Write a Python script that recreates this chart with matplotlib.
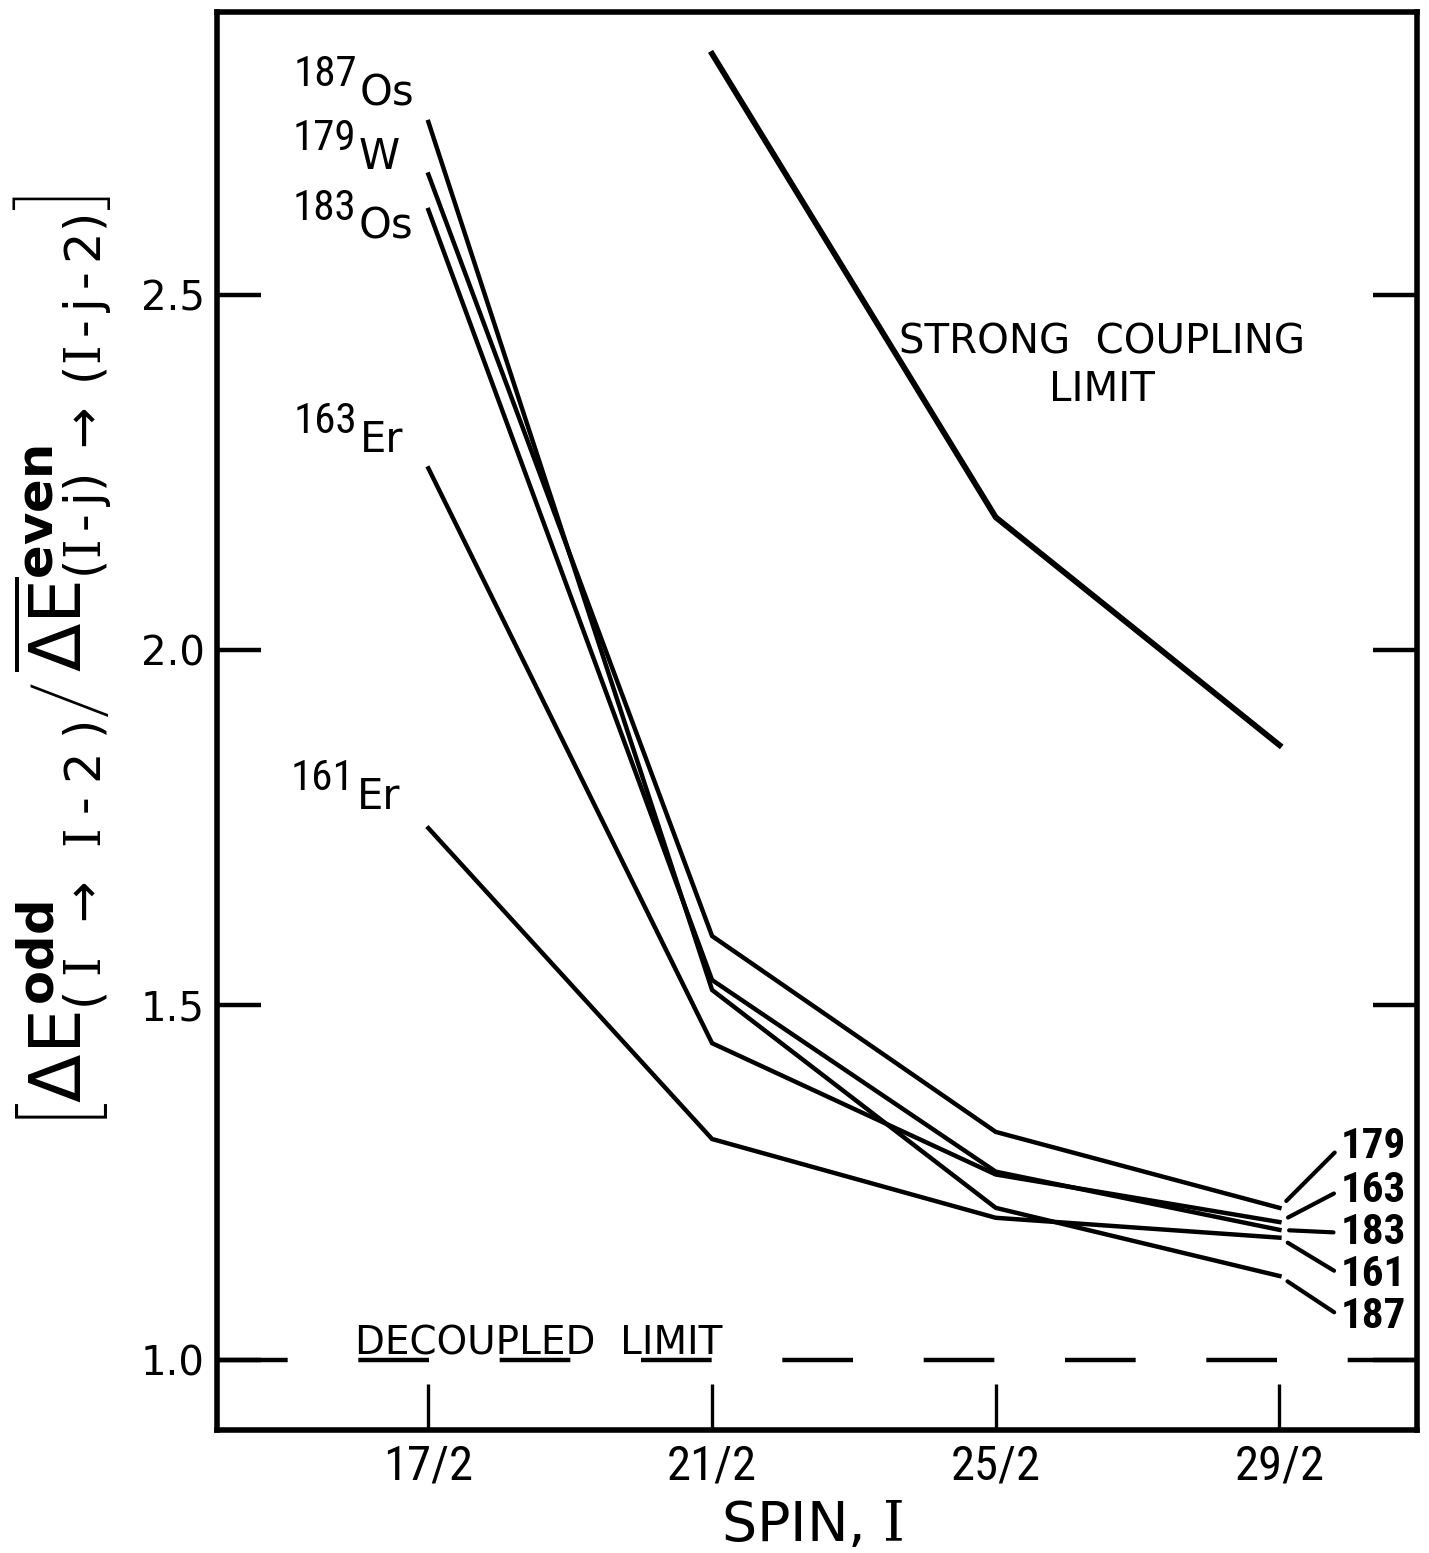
import matplotlib
matplotlib.use("Agg")
import matplotlib.pyplot as plt
from matplotlib import font_manager

# data
spin = [8.5, 10.5, 12.5, 14.5]
spin_labels = ["17/2", "21/2", "25/2", "29/2"]
os187 = [2.744, 1.521, 1.214, 1.118]
w179 = [2.670, 1.597, 1.321, 1.214]
os183 = [2.620, 1.535, 1.265, 1.183]
er163 = [2.256, 1.446, 1.261, 1.194]
er161 = [1.749, 1.311, 1.200, 1.172]
strong_spin = [10.5, 12.5, 14.5]
strong = [2.84, 2.187, 1.866]
decoupled = 1.0
yticks = [1.0, 1.5, 2.0, 2.5]

plt.rcParams["font.family"] = "DejaVu Sans"
plt.rcParams["mathtext.fontset"] = "custom"
plt.rcParams["mathtext.rm"] = "DejaVu Sans"
plt.rcParams["mathtext.it"] = "DejaVu Sans"
plt.rcParams["mathtext.bf"] = "DejaVu Sans:bold"
plt.rcParams["mathtext.sf"] = "DejaVu Serif"

names = {f.name for f in font_manager.fontManager.ttflist}
narrow = next((f for f in ["Liberation Sans Narrow", "Roboto Condensed"] if f in names), "DejaVu Sans")
thin = next((f for f in ["Roboto", "Lato", "Open Sans"] if f in names), "DejaVu Sans")

fig = plt.figure(figsize=(14.29, 15.53), dpi=100)
ax = fig.add_axes([0.1519, 0.0792, 0.8397, 0.9131])

series = [("187", "Os", os187), ("179", "W", w179), ("183", "Os", os183),
          ("163", "Er", er163), ("161", "Er", er161)]
for mass, elem, vals in series:
    ax.plot(spin, vals, color="k", lw=3.2, solid_joinstyle="miter")
ax.plot(strong_spin, strong, color="k", lw=4.2)
ax.axhline(decoupled, color="k", lw=3.2, dashes=(15.9, 15.9))

ax.set_xlim(7.01, 15.47)
ax.set_ylim(0.901, 2.899)
ax.set_xticks(spin)
ax.set_xticklabels(spin_labels, fontsize=35, family=narrow)
ax.set_yticks(yticks)
ax.set_yticklabels([f"{v:.1f}" for v in yticks], fontsize=29)
ax.tick_params(axis="x", direction="in", length=33, width=2.4, pad=10, top=False)
ax.tick_params(axis="y", direction="in", length=32, width=3.2, pad=9, left=True, right=True)
for s in ax.spines.values():
    s.set_linewidth(4)

# isotope names at the left
left_pos = {"187": (7.548, 2.794), "179": (7.541, 2.704), "183": (7.541, 2.606),
            "163": (7.548, 2.306), "161": (7.527, 1.803)}
for mass, elem, vals in series:
    x, y = left_pos[mass]
    t = ax.text(x, y, mass, fontsize=31, family=narrow, ha="left", va="baseline")
    ax.annotate(elem, xy=(1, 0), xycoords=t, xytext=(2, -7), textcoords="offset points",
                fontsize=30, ha="left", va="baseline")

# mass numbers at the right with leaders
right_pos = {"179": 1.300, "163": 1.239, "183": 1.179, "161": 1.120, "187": 1.061}
for mass, elem, vals in series:
    ax.annotate(mass, xy=(spin[-1], vals[-1]), xytext=(14.93, right_pos[mass]),
                textcoords="data", fontsize=31, family=narrow, fontweight="bold",
                ha="left", va="center",
                arrowprops=dict(arrowstyle="-", lw=3, color="k", shrinkA=3, shrinkB=7,
                                relpos=(0, 0.5)))

ax.text(13.246, 2.462, "STRONG  COUPLING\nLIMIT", fontsize=29, ha="center", va="top",
        linespacing=1.25)
ax.text(7.985, 1.008, "DECOUPLED  LIMIT", fontsize=28, ha="left", va="baseline")

# y label in three pieces: numerator, big slash, denominator
num = (r"$\left[\Delta E^{\mathbf{odd}}_{(\;\mathsf{I}\ \,\rightarrow\ \,\mathsf{I}\;‐\;2\;)}"
       r"\right.$")
den = (r"$\left.\overline{\Delta E}^{\mathbf{even}}_{(\mathsf{I}\,‐\,j)\;\rightarrow\;"
       r"(\mathsf{I}\,‐\,j\,‐\,2)}\right]$")
base_x = 82 / 1429
lab_num = fig.text(base_x, 1 - 1134 / 1553, num, rotation=90, rotation_mode="anchor",
                   ha="left", va="baseline", fontsize=51)
lab_sl = ax.annotate("/", xy=(base_x, 1), xycoords=("figure fraction", lab_num),
                     xytext=(14, 4), textcoords="offset points", rotation=90,
                     rotation_mode="anchor", ha="left", va="baseline", fontsize=72,
                     family=thin, fontweight="light", annotation_clip=False)
ax.annotate(den, xy=(base_x, 1), xycoords=("figure fraction", lab_sl),
            xytext=(0, 4), textcoords="offset points", rotation=90,
            rotation_mode="anchor", ha="left", va="baseline", fontsize=51,
            annotation_clip=False)

fig.text(812 / 1429, 0.0077, r"SPIN, $\mathsf{I}$", fontsize=40, ha="center", va="baseline")

fig.savefig("out.png", dpi=100, facecolor="white")
